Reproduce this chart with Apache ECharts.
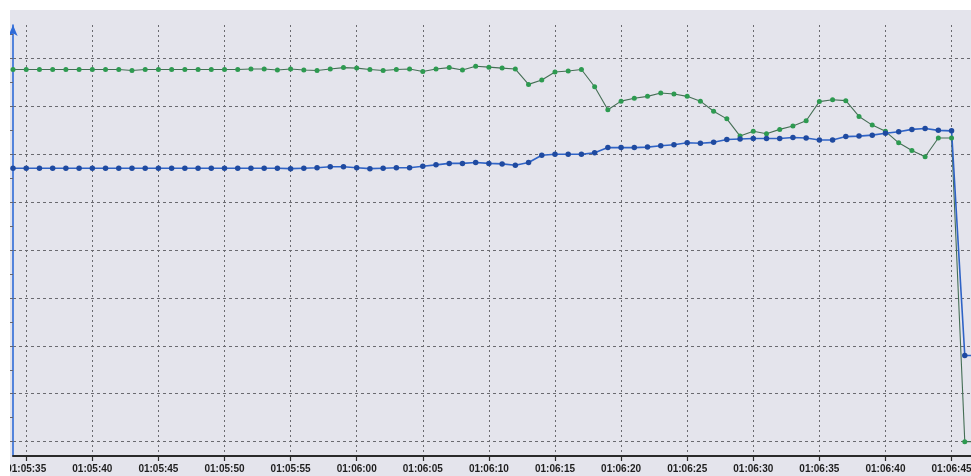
<!DOCTYPE html>
<html><head><meta charset="utf-8">
<script src="https://cdn.jsdelivr.net/npm/echarts@6/dist/echarts.min.js"></script>
<style>html,body{margin:0;padding:0;background:#fff}#c{width:971px;height:476px}</style>
</head><body><div id="c"></div>
<script>
const categories = [
  '01:05:34','01:05:35','01:05:36','01:05:37','01:05:38','01:05:39','01:05:40','01:05:41','01:05:42','01:05:43',
  '01:05:44','01:05:45','01:05:46','01:05:47','01:05:48','01:05:49','01:05:50','01:05:51','01:05:52','01:05:53',
  '01:05:54','01:05:55','01:05:56','01:05:57','01:05:58','01:05:59','01:06:00','01:06:01','01:06:02','01:06:03',
  '01:06:04','01:06:05','01:06:06','01:06:07','01:06:08','01:06:09','01:06:10','01:06:11','01:06:12','01:06:13',
  '01:06:14','01:06:15','01:06:16','01:06:17','01:06:18','01:06:19','01:06:20','01:06:21','01:06:22','01:06:23',
  '01:06:24','01:06:25','01:06:26','01:06:27','01:06:28','01:06:29','01:06:30','01:06:31','01:06:32','01:06:33',
  '01:06:34','01:06:35','01:06:36','01:06:37','01:06:38','01:06:39','01:06:40','01:06:41','01:06:42','01:06:43',
  '01:06:44','01:06:45','01:06:46','01:06:47'
];
const greenValues = [
  77.7,77.7,77.7,77.7,77.7,77.7,77.7,77.7,77.7,77.5,
  77.7,77.7,77.7,77.7,77.7,77.7,77.7,77.7,77.8,77.8,
  77.6,77.8,77.6,77.5,77.8,78.1,78.0,77.7,77.5,77.7,
  77.8,77.3,77.8,78.1,77.6,78.4,78.2,78.0,77.8,74.6,
  75.5,77.2,77.4,77.7,74.1,69.3,71.1,71.7,72.1,72.8,
  72.6,72.1,71.1,69.0,67.4,63.8,64.8,64.3,65.2,65.9,
  67.0,71.0,71.4,71.2,67.9,66.1,64.8,62.4,60.8,59.5,
  63.4,63.4,0,0
];
const blueValues = [
  57.1,57.1,57.1,57.1,57.1,57.1,57.1,57.1,57.1,57.1,
  57.1,57.1,57.1,57.1,57.1,57.1,57.1,57.1,57.1,57.1,
  57.1,57.0,57.1,57.2,57.4,57.4,57.2,57.0,57.1,57.2,
  57.2,57.5,57.8,58.1,58.1,58.3,58.1,58.0,57.7,58.3,
  59.8,60.0,60.0,60.0,60.3,61.4,61.4,61.4,61.5,61.8,
  62.0,62.4,62.3,62.5,63.1,63.2,63.3,63.3,63.3,63.5,
  63.4,63.0,63.0,63.7,63.8,64.0,64.4,64.7,65.2,65.4,
  65.0,64.9,18.0,18.0
];
const yGridValues = [0,10,20,30,40,50,60,70,80];
const yTickValues = [0,5,10,15,20,25,30,35,40,45,50,55,60,65,70,75,80,85];
const Y_MIN = -3, Y_MAX = 87;

const showEvery5 = (idx) => idx % 5 === 1;
const chart = echarts.init(document.getElementById('c'), null, {renderer: 'canvas'});
chart.setOption({
  backgroundColor: '#ffffff',
  animation: false,
  graphic: [
    {type: 'rect', z: -10, silent: true, shape: {x: 10, y: 10, width: 961, height: 466}, style: {fill: '#e4e4ec'}},
    {type: 'rect', z: 100, zlevel: 1, silent: true, shape: {x: 0, y: 0, width: 10, height: 476}, style: {fill: '#ffffff'}}
  ],
  grid: {left: 13, top: 25, width: 965, height: 431, containLabel: false, outerBoundsMode: 'none'},
  xAxis: {
    type: 'category',
    data: categories,
    boundaryGap: false,
    axisLine: {show: true, onZero: false, lineStyle: {color: '#2a2a2a', width: 1.8}},
    axisTick: {show: true, interval: showEvery5, length: 5, lineStyle: {color: '#2a2a2a', width: 1.2}},
    axisLabel: {interval: showEvery5, color: '#1e1e1e', fontFamily: 'Liberation Sans, Arial, sans-serif',
      fontWeight: 'bold', fontSize: 10, margin: 8},
    splitLine: {show: true, interval: showEvery5, lineStyle: {color: '#6a6a70', type: [2, 3], width: 1}}
  },
  yAxis: [
    {
      type: 'value', min: Y_MIN, max: Y_MAX,
      axisLine: {show: true, onZero: false, lineStyle: {color: '#2f6bd8', width: 1.6}, symbol: ['none', 'arrow'], symbolSize: [7, 11]},
      axisTick: {show: true, customValues: yTickValues, length: 3, lineStyle: {color: '#66666e'}},
      axisLabel: {show: false},
      splitLine: {show: false}
    },
    {
      type: 'value', min: Y_MIN, max: Y_MAX, position: 'left',
      axisLine: {show: false},
      axisTick: {show: false, customValues: yGridValues},
      axisLabel: {show: false},
      splitLine: {show: true, lineStyle: {color: '#6a6a70', type: [3, 3], width: 1}}
    }
  ],
  series: [
    {
      name: 'green', type: 'line', data: greenValues, yAxisIndex: 0,
      showAllSymbol: true, symbol: 'circle', symbolSize: 5,
      lineStyle: {color: '#456e55', width: 1.1},
      itemStyle: {color: '#2d9a50'}
    },
    {
      name: 'blue', type: 'line', data: blueValues, yAxisIndex: 0,
      showAllSymbol: true, symbol: 'circle', symbolSize: 5.5,
      lineStyle: {color: '#2f63c6', width: 1.6},
      itemStyle: {color: '#1f4aa0'}
    }
  ]
});
</script>
</body></html>
